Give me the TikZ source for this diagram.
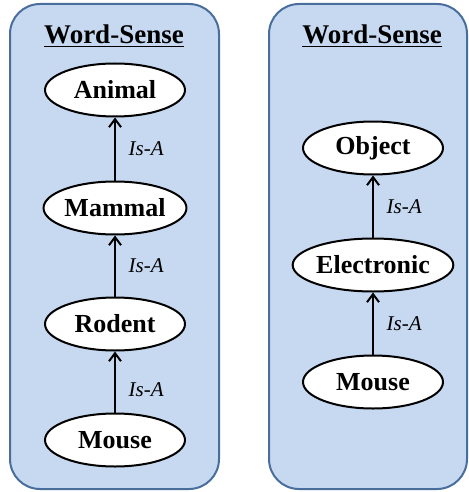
\documentclass[tikz,border=0pt]{standalone}
\usepackage{fontspec}
\setmainfont{Liberation Serif}
\usetikzlibrary{arrows.meta,shapes.geometric}

\definecolor{panelfill}{RGB}{198,217,241}
\definecolor{panelline}{RGB}{74,110,156}

\begin{document}
\begin{tikzpicture}[x=0.5pt,y=-0.5pt,>={Straight Barb[length=4pt,width=6pt]},
    line cap=round,line join=round,
    panel/.style={draw=panelline,fill=panelfill,line width=1pt,
      rounded corners=15pt},
    heading/.style={font=\fontsize{13.5}{16}\selectfont\bfseries},
    sense/.style={ellipse,draw,fill=white,line width=1pt,
      minimum width=70pt,minimum height=26.5pt,inner sep=0pt,
      font=\fontsize{13}{15}\selectfont\bfseries},
    isa/.style={->,line width=1pt},
    rel/.style={right=3pt,midway,font=\fontsize{10.5}{12}\selectfont\itshape}]
    \useasboundingbox (0,0) rectangle (469,492);

    % The two rounded boxes behind each chain.
    \draw[panel] (10,4) rectangle (219,489);
    \draw[panel] (269,4) rectangle (467,489);

    \node[heading] (headL) at (114,36) {\underline{Word-Sense}};
    \node[heading] (headR) at (372,36) {\underline{Word-Sense}};

    % Left chain: mouse as an animal.
    \node[sense] (animal) at (115,90) {Animal};
    \node[sense] (mammal) at (115,208) {Mammal};
    \node[sense] (rodent) at (115,324) {Rodent};
    \node[sense] (mouseA) at (115,440) {Mouse};

    \draw[isa] (mammal) -- (animal) node[rel] {Is-A};
    \draw[isa] (rodent) -- (mammal) node[rel] {Is-A};
    \draw[isa] (mouseA) -- (rodent) node[rel,yshift=-4pt] {Is-A};

    % Right chain: mouse as a device.
    \node[sense] (object) at (373,148) {Object};
    \node[sense] (electronic) at (373,265) {Electronic};
    \node[sense] (mouseD) at (373,382) {Mouse};

    \draw[isa] (electronic) -- (object) node[rel] {Is-A};
    \draw[isa] (mouseD) -- (electronic) node[rel] {Is-A};
\end{tikzpicture}
\end{document}
